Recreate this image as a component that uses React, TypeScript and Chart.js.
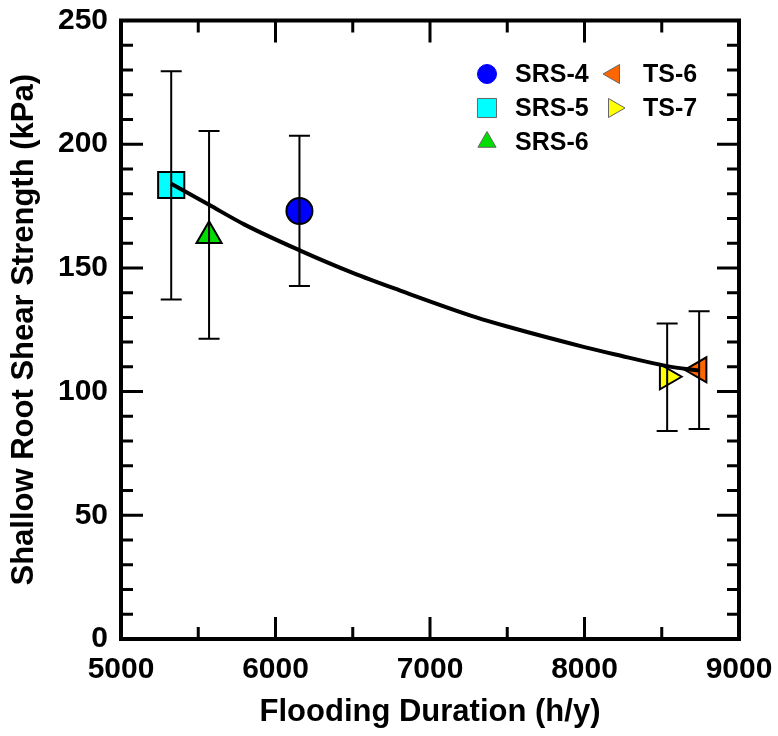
import React, { useEffect, useRef } from 'react';
import { Chart, registerables } from 'chart.js';

Chart.register(...registerables);

// ---- data ----
const seriesNames = ['SRS-4', 'SRS-5', 'SRS-6', 'TS-6', 'TS-7'];
const floodingHours = [6155, 5325, 5570, 8742, 8535];
const shearStrength = [173, 183.5, 163, 108.8, 106];
const errLow = [142.7, 137.2, 121.4, 84.9, 84.1];
const errHigh = [203.4, 229.5, 205.3, 132.5, 127.5];

// fitted trend curve
const fitX = [5325, 5570, 5800, 6160, 6500, 6800, 7300, 7500, 8000, 8200, 8535, 8742];
const fitY = [184, 175.5, 167.5, 157, 148, 141, 130, 126.3, 118, 115, 110.3, 108.5];

const xTickValues = [5000, 6000, 7000, 8000, 9000];
const yTickValues = [0, 50, 100, 150, 200, 250];

// ---- styles ----
const fillColors = ['#0000ff', '#00ffff', '#00dd00', '#ff6600', '#ffff00'];
const pointStyles = ['circle', 'rect', 'triangle', 'triangle', 'triangle'];
const pointRotations = [0, 0, 0, -90, 90];
const pointRadii = [13, 18.5, 14.5, 14.5, 14.5];
const legendRadii = [9.5, 13.5, 10.5, 11, 11];

const FONT = '"Liberation Sans", Arial, sans-serif';

function drawMarker(ctx: CanvasRenderingContext2D, style: string, x: number, y: number, r: number, rot: number) {
  ctx.beginPath();
  if (style === 'circle') {
    ctx.arc(x, y, r, 0, Math.PI * 2);
  } else if (style === 'rect') {
    const s = Math.SQRT1_2 * r;
    ctx.rect(x - s, y - s, 2 * s, 2 * s);
  } else {
    let rad = (rot * Math.PI) / 180;
    ctx.moveTo(x + Math.sin(rad) * r, y - Math.cos(rad) * r);
    rad += (2 * Math.PI) / 3;
    ctx.lineTo(x + Math.sin(rad) * r, y - Math.cos(rad) * r);
    rad += (2 * Math.PI) / 3;
    ctx.lineTo(x + Math.sin(rad) * r, y - Math.cos(rad) * r);
    ctx.closePath();
  }
  ctx.fill();
  ctx.stroke();
}

const framePlugin = {
  id: 'frameAndExtras',
  afterDatasetsDraw(chart: any) {
    const ctx: CanvasRenderingContext2D = chart.ctx;
    const xs = chart.scales.x;
    const ys = chart.scales.y;
    ctx.save();
    ctx.strokeStyle = '#000';
    ctx.lineWidth = 2;
    for (let i = 0; i < floodingHours.length; i++) {
      const px = xs.getPixelForValue(floodingHours[i]);
      const pLo = ys.getPixelForValue(errLow[i]);
      const pHi = ys.getPixelForValue(errHigh[i]);
      ctx.beginPath();
      ctx.moveTo(px, pLo);
      ctx.lineTo(px, pHi);
      ctx.moveTo(px - 10.5, pLo);
      ctx.lineTo(px + 10.5, pLo);
      ctx.moveTo(px - 10.5, pHi);
      ctx.lineTo(px + 10.5, pHi);
      ctx.stroke();
    }
    ctx.restore();
  },
  afterDraw(chart: any) {
    const ctx: CanvasRenderingContext2D = chart.ctx;
    const { left, right, top, bottom } = chart.chartArea;
    const xs = chart.scales.x;
    const ys = chart.scales.y;
    ctx.save();
    ctx.strokeStyle = '#000';
    ctx.lineCap = 'butt';
    // ticks
    ctx.lineWidth = 3;
    for (let v = 5000; v <= 9000; v += 500) {
      const len = v % 1000 === 0 ? 22 : 12;
      const px = xs.getPixelForValue(v);
      ctx.beginPath();
      ctx.moveTo(px, bottom);
      ctx.lineTo(px, bottom - len);
      ctx.moveTo(px, top);
      ctx.lineTo(px, top + len);
      ctx.stroke();
    }
    for (let v = 0; v <= 250; v += 10) {
      const len = v % 50 === 0 ? 22 : 12;
      const py = ys.getPixelForValue(v);
      ctx.beginPath();
      ctx.moveTo(left, py);
      ctx.lineTo(left + len, py);
      ctx.moveTo(right, py);
      ctx.lineTo(right - len, py);
      ctx.stroke();
    }
    // frame
    ctx.lineWidth = 4;
    ctx.lineJoin = 'miter';
    ctx.strokeRect(left, top, right - left, bottom - top);

    // legend
    const colX = [487, 614];
    const textX = [515, 643];
    const rowY = [74, 108, 142];
    const slots = [
      [0, 0],
      [0, 1],
      [0, 2],
      [1, 0],
      [1, 1],
    ];
    ctx.font = `bold 25px ${FONT}`;
    ctx.textBaseline = 'middle';
    ctx.textAlign = 'left';
    for (let i = 0; i < seriesNames.length; i++) {
      const [c, r] = slots[i];
      ctx.fillStyle = fillColors[i];
      ctx.strokeStyle = i === 0 ? fillColors[i] : '#666';
      ctx.lineWidth = 1;
      drawMarker(ctx, pointStyles[i], colX[c], rowY[r], legendRadii[i], pointRotations[i]);
      ctx.fillStyle = '#000';
      ctx.fillText(seriesNames[i], textX[c], rowY[r] + 1);
    }
    ctx.restore();
  },
};

const zeroPadding = (scale: any) => {
  scale.paddingTop = 0;
  scale.paddingBottom = 0;
  scale.paddingLeft = 0;
  scale.paddingRight = 0;
};

export default function App() {
  const canvasRef = useRef<HTMLCanvasElement | null>(null);

  useEffect(() => {
    if (!canvasRef.current) return;
    const pointDatasets = seriesNames.map((name, i) => ({
      type: 'scatter' as const,
      label: name,
      data: [{ x: floodingHours[i], y: shearStrength[i] }],
      pointStyle: pointStyles[i] as any,
      rotation: pointRotations[i],
      pointRadius: pointRadii[i],
      backgroundColor: fillColors[i],
      borderColor: '#000',
      borderWidth: 2,
      order: 2,
    }));
    const fitDataset = {
      type: 'line' as const,
      label: 'fit',
      data: fitX.map((x, i) => ({ x, y: fitY[i] })),
      borderColor: '#000',
      borderWidth: 4,
      pointRadius: 0,
      showLine: true,
      fill: false,
      cubicInterpolationMode: 'monotone' as const,
      order: 1,
    };
    const chart = new Chart(canvasRef.current, {
      type: 'scatter',
      data: { datasets: [...pointDatasets, fitDataset] as any },
      options: {
        responsive: false,
        animation: false,
        layout: { padding: { top: 20, right: 39, left: 0, bottom: 0 } },
        plugins: { legend: { display: false }, tooltip: { enabled: false } },
        scales: {
          x: {
            type: 'linear',
            min: 5000,
            max: 9000,
            afterBuildTicks: (scale: any) => {
              scale.ticks = xTickValues.map((v) => ({ value: v }));
            },
            afterFit: (scale: any) => {
              scale.height = 97;
              zeroPadding(scale);
            },
            grid: { display: false, drawTicks: false },
            border: { display: false },
            ticks: {
              color: '#000',
              padding: 13,
              maxRotation: 0,
              callback: (v: any) => String(v),
              font: { family: FONT, size: 30, weight: 'bold' },
            },
            title: {
              display: true,
              text: 'Flooding Duration (h/y)',
              color: '#000',
              padding: { top: 0, bottom: 5 },
              font: { family: FONT, size: 31, weight: 'bold' },
            },
          },
          y: {
            type: 'linear',
            min: 0,
            max: 250,
            afterBuildTicks: (scale: any) => {
              scale.ticks = yTickValues.map((v) => ({ value: v }));
            },
            afterFit: (scale: any) => {
              scale.width = 121;
              zeroPadding(scale);
            },
            grid: { display: false, drawTicks: false },
            border: { display: false },
            ticks: {
              color: '#000',
              padding: 13,
              callback: (v: any) => String(v),
              font: { family: FONT, size: 30, weight: 'bold' },
            },
            title: {
              display: true,
              text: 'Shallow Root Shear Strength (kPa)',
              color: '#000',
              padding: { top: 6, bottom: 0 },
              font: { family: FONT, size: 31, weight: 'bold' },
            },
          },
        },
      },
      plugins: [framePlugin],
    });
    return () => chart.destroy();
  }, []);

  return (
    <div style={{ position: 'fixed', left: 0, top: 0, width: 778, height: 736, background: '#fff' }}>
      <canvas ref={canvasRef} width={778} height={736} style={{ display: 'block' }} />
    </div>
  );
}
